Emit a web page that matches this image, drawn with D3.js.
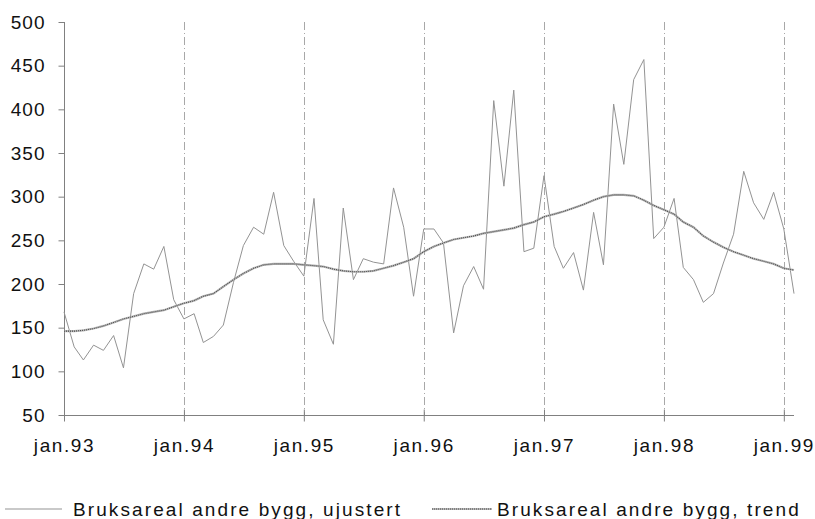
<!DOCTYPE html>
<html>
<head>
<meta charset="utf-8">
<script src="https://cdn.jsdelivr.net/npm/d3@7"></script>
<style>
  html, body { margin: 0; padding: 0; background: #fff; }
  svg { display: block; }
  text { font-family: "Liberation Sans", Arial, Helvetica, sans-serif; fill: #111; }
</style>
</head>
<body>
<svg id="chart" width="815" height="519"></svg>
<script>
// ---- data ----
const startMonth = [1993, 0];     // jan.93
const monthCount = 74;            // jan.93 .. feb.99
const rawValues = [
  168, 128, 113, 130, 124, 141, 104, 189, 223, 217, 243, 182,
  160, 166, 133, 140, 153, 202, 244, 265, 257, 305, 244, 226,
  209, 298, 159, 131, 287, 205, 229, 225, 223, 310, 265, 186,
  263, 263, 247, 144, 198, 220, 194, 410, 312, 422, 237, 241,
  324, 243, 218, 236, 193, 282, 222, 406, 337, 434, 457, 252,
  265, 298, 219, 205, 179, 189, 224, 257, 329, 293, 274, 305,
  263, 189
];
const trendValues = [
  146, 146, 147, 149, 152, 156, 160, 163, 166, 168, 170, 174,
  178, 181, 186, 189, 197, 205, 212, 218, 222, 223, 223, 223,
  222, 221, 220, 217, 215, 214, 214, 215, 218, 221, 225, 229,
  237, 243, 247, 251, 253, 255, 258, 260, 262, 264, 268, 271,
  277, 280, 283, 287, 291, 296, 300, 302, 302, 301, 296, 290,
  285, 280, 271, 265, 255, 248, 242, 237, 233, 229, 226, 223,
  218, 216
];
const yTicks = [50, 100, 150, 200, 250, 300, 350, 400, 450, 500];
const xTickYears = [1993, 1994, 1995, 1996, 1997, 1998, 1999];
const seriesNames = ["Bruksareal andre bygg, ujustert", "Bruksareal andre bygg, trend"];

// ---- build ----
const dates = d3.range(monthCount).map(i => new Date(startMonth[0], startMonth[1] + i, 1));
const rawData = dates.map((d, i) => ({ d, v: rawValues[i] }));
const trendData = dates.map((d, i) => ({ d, v: trendValues[i] }));

const svg = d3.select("#chart");
const margin = { left: 64, top: 22, right: 21, bottom: 104 };
const W = 815, H = 519;

const x = d3.scaleTime()
  .domain([dates[0], dates[dates.length - 1]])
  .range([margin.left, W - margin.right]);
const y = d3.scaleLinear()
  .domain([50, 500])
  .range([H - margin.bottom, margin.top]);

const axisColor = "#808080";
const fontFam = "Liberation Sans, Arial, sans-serif";

// vertical grid lines at each January (except first)
svg.append("g")
  .selectAll("line")
  .data(xTickYears.slice(1))
  .join("line")
  .attr("x1", yr => Math.round(x(new Date(yr, 0, 1))) + 0.5)
  .attr("x2", yr => Math.round(x(new Date(yr, 0, 1))) + 0.5)
  .attr("y1", y(500))
  .attr("y2", y(50))
  .attr("stroke", "#a8a8a8")
  .attr("stroke-width", 1)
  .attr("stroke-dasharray", "8,3,1,3");

// y axis
const yAxis = svg.append("g")
  .attr("transform", `translate(${margin.left + 0.5},0)`)
  .call(d3.axisLeft(y).tickValues(yTicks).tickSize(6).tickPadding(13).tickFormat(d3.format("d")));
yAxis.select(".domain").attr("stroke", axisColor).attr("d", `M0,${y(500)}V${y(50)}`);
yAxis.selectAll(".tick line").attr("stroke", axisColor);
yAxis.selectAll(".tick text")
  .attr("font-size", 19)
  .attr("letter-spacing", "1px")
  .attr("fill", "#111")
  .attr("font-family", fontFam);

// x axis
const xAxis = svg.append("g")
  .attr("transform", `translate(0,${Math.round(y(50)) + 0.5})`)
  .call(d3.axisBottom(x)
    .tickValues(xTickYears.map(yr => new Date(yr, 0, 1)))
    .tickSize(6)
    .tickPadding(17)
    .tickFormat(d3.timeFormat("jan.%y")));
xAxis.select(".domain").attr("stroke", axisColor).attr("d", `M${margin.left},0H${W - margin.right}`);
xAxis.selectAll(".tick line").attr("stroke", axisColor).attr("y1", -6).attr("y2", 6);
xAxis.selectAll(".tick text")
  .attr("font-size", 19)
  .attr("letter-spacing", "1.6px")
  .attr("fill", "#111")
  .attr("font-family", fontFam);

// lines
const line = d3.line().x(p => x(p.d)).y(p => y(p.v));

svg.append("path")
  .datum(rawData)
  .attr("fill", "none")
  .attr("stroke", "#939393")
  .attr("stroke-width", 1)
  .attr("d", line);

const trendG = svg.append("g");
trendG.append("path")
  .datum(trendData)
  .attr("fill", "none")
  .attr("stroke", "#b8b8b8")
  .attr("stroke-width", 2.2)
  .attr("d", line);
trendG.append("path")
  .datum(trendData)
  .attr("fill", "none")
  .attr("stroke", "#4a4a4a")
  .attr("stroke-width", 1.1)
  .attr("stroke-dasharray", "1,1")
  .attr("d", line);

// legend
const legendY = 509;
const legend = [
  { name: seriesNames[0], x1: 5, x2: 62, tx: 73, type: "raw" },
  { name: seriesNames[1], x1: 432, x2: 492, tx: 497, type: "trend" }
];
const lg = svg.append("g");
legend.forEach(l => {
  if (l.type === "raw") {
    lg.append("line").attr("x1", l.x1).attr("x2", l.x2).attr("y1", legendY).attr("y2", legendY)
      .attr("stroke", "#939393").attr("stroke-width", 1);
  } else {
    lg.append("line").attr("x1", l.x1).attr("x2", l.x2).attr("y1", legendY).attr("y2", legendY)
      .attr("stroke", "#b8b8b8").attr("stroke-width", 2.2);
    lg.append("line").attr("x1", l.x1).attr("x2", l.x2).attr("y1", legendY).attr("y2", legendY)
      .attr("stroke", "#4a4a4a").attr("stroke-width", 1.1).attr("stroke-dasharray", "1,1");
  }
  lg.append("text")
    .attr("x", l.tx)
    .attr("y", legendY + 7)
    .attr("font-size", 19)
    .attr("letter-spacing", "2.1px")
    .attr("font-family", fontFam)
    .text(l.name);
});
</script>
</body>
</html>
